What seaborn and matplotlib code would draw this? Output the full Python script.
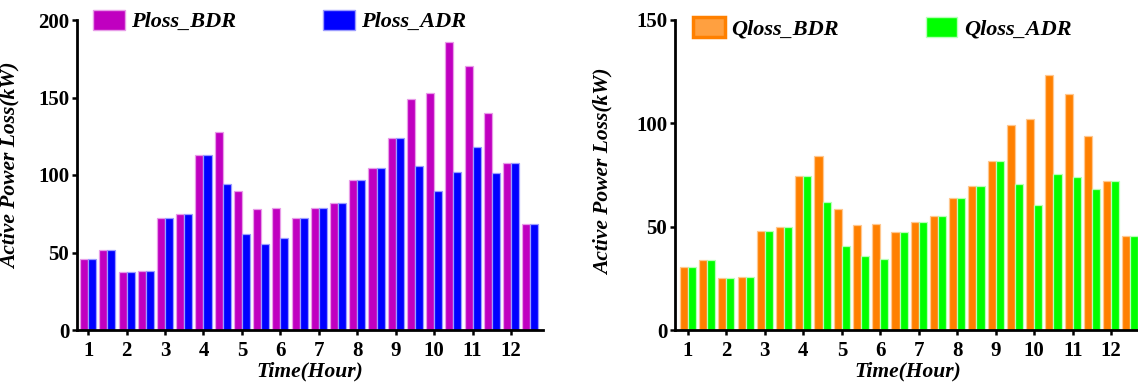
import numpy as np
import pandas as pd
import matplotlib
matplotlib.use("Agg")
import matplotlib.pyplot as plt
from matplotlib.patches import Patch
import seaborn as sns

# ---- data (half-hour slots, two per hour) ----
slots = list(range(1, 25))
tick_labels = ["1", "2", "3", "4", "5", "6", "7", "8", "9", "10", "11", "12"]

ploss_bdr = [46, 51.5, 37.5, 38, 72.5, 75, 113, 128, 89.5, 78, 78.5, 72,
             79, 82, 96.5, 104.5, 124, 149, 153, 186, 170.5, 140, 108, 68.5]
ploss_adr = [46, 51.5, 37.5, 38, 72.5, 75, 113, 94.5, 62, 55.5, 59.5, 72,
             79, 82, 96.5, 104.5, 124, 105.5, 90, 102, 118, 101, 108, 68.5]
qloss_bdr = [30.5, 34, 25, 25.5, 48, 50, 74.5, 84, 58.5, 51, 51.5, 47.5,
             52.5, 55, 64, 69.5, 82, 99, 102, 123.5, 114, 94, 72, 45.5]
qloss_adr = [30.5, 34, 25, 25.5, 48, 50, 74.5, 62, 40.5, 36, 34.5, 47.5,
             52.5, 55, 64, 69.5, 82, 70.5, 60.5, 75.5, 74, 68, 72, 45.5]

left_series = ["Ploss_BDR", "Ploss_ADR"]
right_series = ["Qloss_BDR", "Qloss_ADR"]

df_p = pd.DataFrame({
    "slot": slots * 2,
    "value": ploss_bdr + ploss_adr,
    "series": [left_series[0]] * 24 + [left_series[1]] * 24,
})
df_q = pd.DataFrame({
    "slot": slots * 2,
    "value": qloss_bdr + qloss_adr,
    "series": [right_series[0]] * 24 + [right_series[1]] * 24,
})

face = {"Ploss_BDR": "#C000C0", "Ploss_ADR": "#0000FF",
        "Qloss_BDR": "#FF8000", "Qloss_ADR": "#00FF00"}
edge = {"Ploss_BDR": "#E89CE8", "Ploss_ADR": "#9C9CFF",
        "Qloss_BDR": "#FFC890", "Qloss_ADR": "#B8FFB8"}

sns.set_theme(style="white")
plt.rcParams["font.family"] = ["Liberation Serif", "DejaVu Serif"]
plt.rcParams["font.weight"] = "bold"
plt.rcParams["text.color"] = "black"

W, H = 1138, 384
fig = plt.figure(figsize=(W / 100, H / 100), dpi=100)

axL = fig.add_axes([77 / W, 54 / H, 466 / W, 310 / H])
axR = fig.add_axes([675 / W, 54 / H, 466 / W, 310 / H])


def draw(ax, df, series, ymax, yticks, xlim, ylab_x, ylab_y):
    sns.barplot(data=df, x="slot", y="value", hue="series", hue_order=series,
                order=slots, palette=face, saturation=1, width=0.84,
                legend=False, ax=ax, linewidth=0.9, edgecolor="white")
    for cont, s in zip(ax.containers, series):
        for bar in cont:
            bar.set_edgecolor(edge[s])
            bar.set_linewidth(0.9)
    ax.set_xlim(*xlim)
    ax.set_ylim(0, ymax)
    ax.set_yticks(yticks)
    ax.set_yticklabels([str(v) for v in yticks])
    ax.set_xticks(np.arange(0, 24, 2))
    ax.set_xticklabels(tick_labels)
    for sp in ["top", "right"]:
        ax.spines[sp].set_visible(False)
    for sp in ["left", "bottom"]:
        ax.spines[sp].set_linewidth(2.0)
        ax.spines[sp].set_color("black")
    ax.tick_params(axis="both", which="major", direction="out", length=3.5,
                   width=1.8, color="black", labelsize=15, labelcolor="black")
    ax.tick_params(axis="x", pad=4.5)
    ax.tick_params(axis="y", pad=2)
    ax.tick_params(left=True, bottom=True)
    for lab in ax.get_xticklabels() + ax.get_yticklabels():
        lab.set_fontweight("bold")
    ax.set_xlabel("Time(Hour)", fontsize=15.5, fontweight="bold",
                  fontstyle="italic", color="black")
    ax.set_ylabel("Active Power Loss(kW)", fontsize=15.5, fontweight="bold",
                  fontstyle="italic", color="black")
    ax.xaxis.set_label_coords(0.5, -0.1)
    ax.yaxis.set_label_coords(ylab_x, ylab_y)
    ax.grid(False)
    ax.set_facecolor("white")


draw(axL, df_p, left_series, 200, [0, 50, 100, 150, 200], (-0.58, 23.66),
     -0.12, 0.53)
draw(axR, df_q, right_series, 150, [0, 50, 100, 150], (-0.67, 23.55),
     -0.131, 0.51)

leg_kw = dict(ncol=2, frameon=False, borderpad=0, borderaxespad=0,
              handlelength=1.42, handleheight=1.0, handletextpad=0.3,
              columnspacing=3.9, loc="center left", labelcolor="black",
              prop={"family": "Liberation Serif", "weight": "bold",
                    "style": "italic", "size": 16},
              bbox_transform=fig.transFigure)

hL = [Patch(facecolor=face[s], edgecolor=edge[s], linewidth=1.0)
      for s in left_series]
axL.legend(hL, left_series, bbox_to_anchor=(93 / W, 1 - 21 / H), **leg_kw)

hR = [Patch(facecolor="#FFA040", edgecolor="#FF8000", linewidth=2.5),
      Patch(facecolor=face["Qloss_ADR"], edgecolor=edge["Qloss_ADR"],
            linewidth=1.0)]
axR.legend(hR, right_series, bbox_to_anchor=(693 / W, 1 - 28 / H), **leg_kw)

fig.savefig("out.png", dpi=100, facecolor="white")
